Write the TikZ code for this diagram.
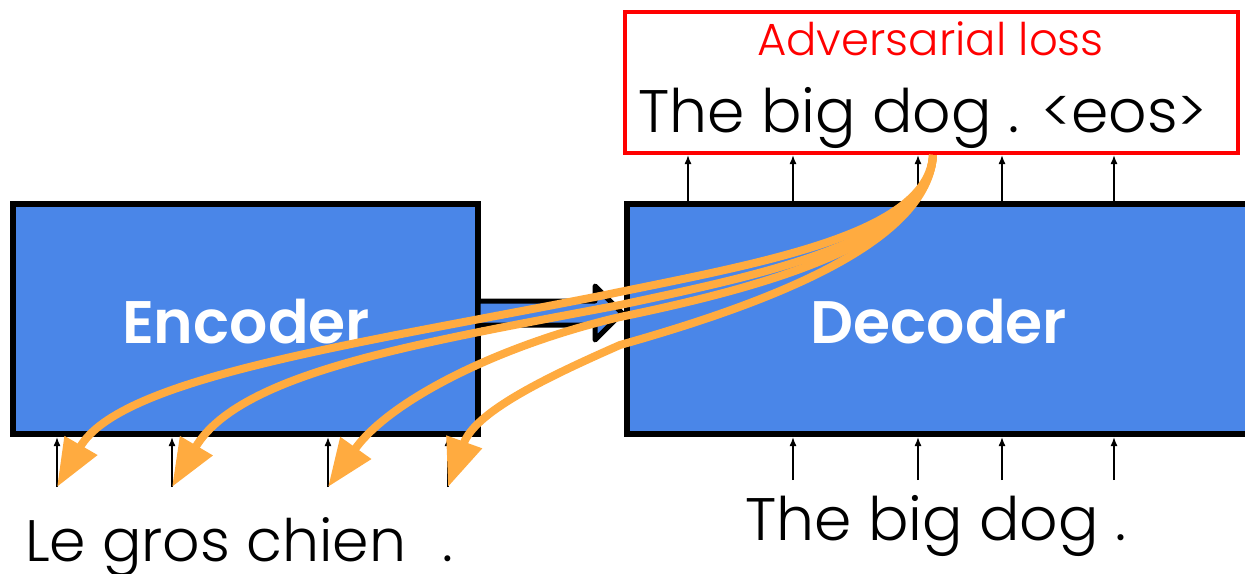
\documentclass[tikz,border=0pt]{standalone}
\usepackage{fontspec}
\setmainfont{Poppins Light}[BoldFont={Poppins SemiBold}]
\usetikzlibrary{arrows.meta,calc}
\definecolor{boxblue}{HTML}{4A86E8}
\definecolor{lossred}{HTML}{FF0000}
\definecolor{attorange}{HTML}{FFAB40}
\tikzset{
  block/.style={draw=black, fill=boxblue, line width=6pt, outer sep=0pt, inner sep=0pt},
  lossbox/.style={draw=lossred, fill=white, line width=4pt, outer sep=0pt, inner sep=0pt},
  blocklabel/.style={text=white, font=\fontsize{60}{64}\selectfont\bfseries, inner sep=0pt},
  wordline/.style={text=black, font=\fontsize{60}{64}\selectfont, inner sep=0pt},
  srcline/.style={text=black, font=\fontsize{58.5}{62}\selectfont, inner sep=0pt},
  losslabel/.style={text=lossred, font=\fontsize{45}{50}\selectfont, inner sep=0pt},
  bridge/.style={draw=black, fill=boxblue, line width=5pt, line join=round},
  tok/.style={draw=black, line width=1.5pt, -{Latex[length=9pt,width=7pt]}},
  attn/.style={draw=attorange, line width=8pt, -{Triangle[length=48pt,width=36pt]}},
}
\begin{document}
\begin{tikzpicture}[x=1pt,y=-1pt]
\useasboundingbox (0,0) rectangle (1245,573);
\clip (0,0) rectangle (1245,573);

% encoder / decoder blocks
\node[block, minimum width=465pt, minimum height=230pt] (enc) at (245.5,319) {};
\node[block, minimum width=643pt, minimum height=230pt] (dec) at (948.5,319) {};
\node[blocklabel, anchor=base] (enclabel) at (246,343) {Encoder};
\node[blocklabel, anchor=base] (declabel) at (939,343) {Decoder};

% hollow block arrow from encoder to decoder
\draw[bridge] ($(enc.east)+(0,-18)$) -- ($(enc.east)+(117,-18)$)
  -- ($(enc.east)+(117,-33)$) -- ($(dec.west)+(-5,-6)$)
  -- ($(enc.east)+(117,21)$) -- ($(enc.east)+(117,6)$)
  -- ($(enc.east)+(0,6)$) -- cycle;

% output box with the loss
\node[lossbox, minimum width=613pt, minimum height=141pt] (loss) at (931.5,82.5) {};
\node[losslabel, anchor=base] (advlabel) at (930.5,55) {Adversarial loss};
\node[wordline, anchor=base west] (outwords) at (638,132) {The big dog . <eos>};

% input words
\node[srcline, anchor=base west] (srcwords) at (25,561) {Le gros chien\hspace{36pt}.};
\node[wordline, anchor=base west] (tgtwords) at (745,540) {The big dog .};

% token positions
\coordinate (ein1) at (57,487);
\coordinate (ein2) at (172,487);
\coordinate (ein3) at (328,487);
\coordinate (ein4) at (448,487);
\coordinate (din1) at (793,480);
\coordinate (din2) at (918,480);
\coordinate (din3) at (1002,480);
\coordinate (din4) at (1114,480);
\coordinate (dout1) at (688,201);
\coordinate (dout2) at (793,201);
\coordinate (dout3) at (918,201);
\coordinate (dout4) at (1002,201);
\coordinate (dout5) at (1114,201);
\coordinate (attsrc) at (933,155);

% token arrows
\foreach \i in {1,...,4} {
  \draw[tok, shorten >=3pt] (ein\i) -- (ein\i |- enc.south);
  \draw[tok, shorten >=3pt] (din\i) -- (din\i |- dec.south);
}
\foreach \i in {1,...,5} {
  \draw[tok, shorten >=2pt] (dout\i) -- (dout\i |- loss.south);
}

% gradients flowing back to the source tokens
\draw[attn] (attsrc) .. controls (928,235) and (760,263) .. (600,296)
  .. controls (350,345) and (120,378) .. (ein1);
\draw[attn] (attsrc) .. controls (928,240) and (770,273) .. (620,305)
  .. controls (420,343) and (240,372) .. (ein2);
\draw[attn] (attsrc) .. controls (928,240) and (775,285) .. (620,317)
  .. controls (500,345) and (390,400) .. (ein3);
\draw[attn] (attsrc) .. controls (928,240) and (780,300) .. (620,345)
  .. controls (545,378) and (475,412) .. (ein4);
\end{tikzpicture}
\end{document}
